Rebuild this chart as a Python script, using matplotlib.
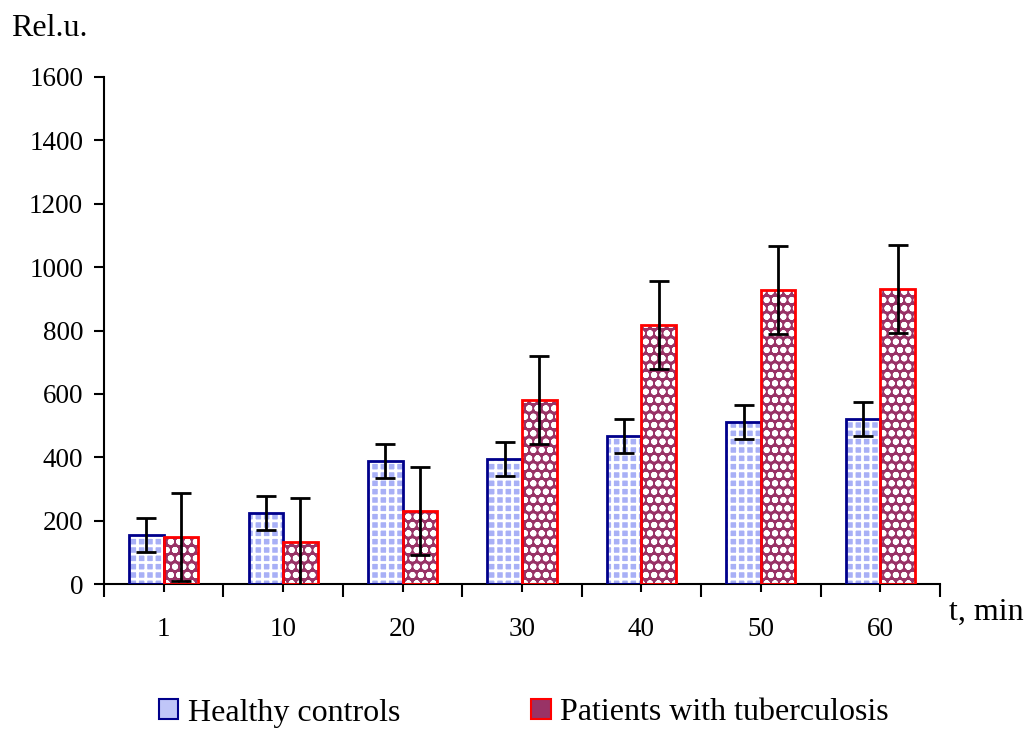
import matplotlib
matplotlib.use("Agg")
import matplotlib.pyplot as plt
import numpy as np
from matplotlib.patches import Patch

plt.rcParams['font.family'] = ['Liberation Serif', 'DejaVu Serif']
plt.rcParams['hatch.linewidth'] = 2.0

categories = ["1", "10", "20", "30", "40", "50", "60"]
healthy = [155, 224, 388, 394, 467, 511, 521]
healthy_err = [53, 53, 53, 53, 53, 53, 53]
patients = [148, 132, 230, 580, 817, 928, 931]
patients_err = [138, 140, 138, 138, 138, 138, 138]
yticks = [0, 200, 400, 600, 800, 1000, 1200, 1400, 1600]

fig = plt.figure(figsize=(10.29, 7.29), dpi=100)
ax = fig.add_axes([104/1029, 1-584/729, (940-104)/1029, (584-77)/729])

x = np.arange(len(categories))
w = 0.29

# Healthy: checker look
ax.bar(x - w/2, healthy, w, color='#a8b0f6', edgecolor='white', linewidth=0, hatch='++', zorder=2)
ax.bar(x - w/2, healthy, w, fill=False, edgecolor='#00008b', linewidth=2, zorder=3)
# Patients: maroon with white pattern
ax.bar(x + w/2, patients, w, color='#993366', edgecolor='white', linewidth=0, hatch='oo', zorder=2)
ax.bar(x + w/2, patients, w, fill=False, edgecolor='#ff0000', linewidth=2, zorder=3)

ax.errorbar(x - w/2, healthy, yerr=healthy_err, fmt='none', ecolor='black', elinewidth=2, capsize=7, capthick=2, zorder=4)
ax.errorbar(x + w/2, patients, yerr=patients_err, fmt='none', ecolor='black', elinewidth=2, capsize=7, capthick=2, zorder=4)

ax.set_xlim(-0.5, len(categories) - 0.5)
ax.set_ylim(0, 1600)
ax.set_yticks(yticks)
ax.set_yticklabels([str(v) for v in yticks], fontsize=19.5)
ax.set_xticks(x)
ax.set_xticklabels(categories, fontsize=19.5)
ax.set_xticks(np.arange(-0.5, len(categories)), minor=True)
ax.tick_params(axis='x', which='major', length=6, width=1.5, pad=18)
ax.tick_params(axis='x', which='minor', length=9, width=1.5)
ax.tick_params(axis='y', length=7, width=1.5, pad=8)
for s in ['top', 'right']:
    ax.spines[s].set_visible(False)
for s in ['left', 'bottom']:
    ax.spines[s].set_linewidth(1.5)

fig.text(11/1029, 1-28/729, "Rel.u.", fontsize=23, ha='left', va='center')
fig.text(949/1029, 1-612/729, "t, min", fontsize=23, ha='left', va='center')

h1 = Patch(facecolor='#c0c6f8', edgecolor='#00008b', linewidth=1.5)
h2 = Patch(facecolor='#993366', edgecolor='#ff0000', linewidth=1.5)
fig.legend([h1, h2], ["Healthy controls", "Patients with tuberculosis"],
           loc='center', bbox_to_anchor=(524/1029, 1-713/729), ncol=2, frameon=False,
           fontsize=23, handlelength=0.6, handleheight=0.6, handletextpad=0.3,
           columnspacing=4.1)

fig.savefig("out.png", dpi=100)
